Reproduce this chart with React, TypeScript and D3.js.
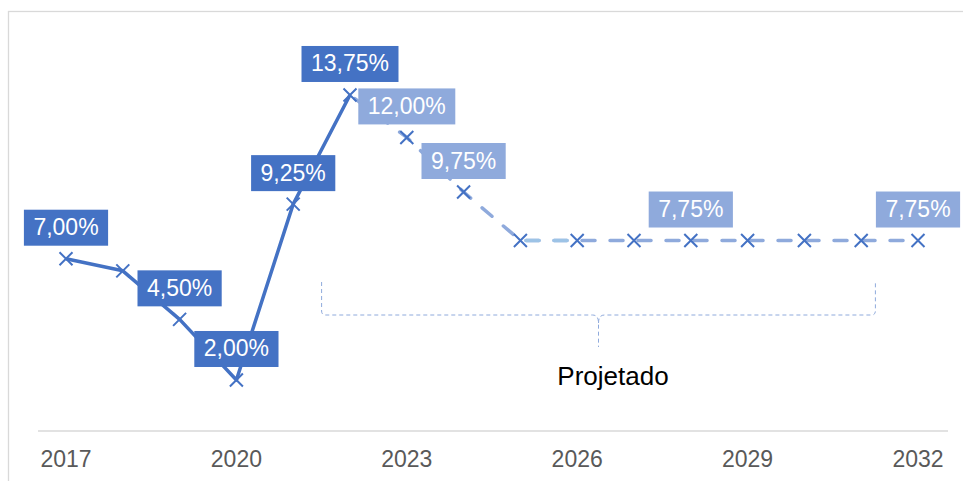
import React from 'react';
import * as d3 from 'd3';

const width = 963;
const height = 481;

// Selic path: actual up to 2022, projected afterwards
const years = [2017, 2018, 2019, 2020, 2021, 2022, 2023, 2024, 2025, 2026, 2027, 2028, 2029, 2030, 2031, 2032];
const rates = [7.0, 6.5, 4.5, 2.0, 9.25, 13.75, 12.0, 9.75, 7.75, 7.75, 7.75, 7.75, 7.75, 7.75, 7.75, 7.75];
const lastActual = 2022;
const labeledYears = [2017, 2019, 2020, 2021, 2022, 2023, 2024, 2028, 2032];
const tickYears = [2017, 2020, 2023, 2026, 2029, 2032];
const skySpan = [2025, 2026];
const bracketLabel = 'Projetado';

const FONT = '"Liberation Sans", Arial, sans-serif';
const DARK = '#4472C4';
const LIGHT = '#8FAADC';
const SKY = '#9DC3E6';

const x = d3.scaleLinear().domain([2017, 2032]).range([66, 918]);
const y = d3.scaleLinear().domain([0, 16]).range([428.5, 40.4]);

const fmt = (v: number) => v.toFixed(2).replace('.', ',') + '%';

// rough Arial advance widths, in em
const charW: Record<string, number> = { ',': 0.278, '%': 0.889 };
const textWidth = (s: string, size: number) =>
  s.split('').reduce((a, c) => a + (charW[c] ?? 0.556), 0) * size;

const points = years.map((yr, i) => ({ yr, v: rates[i] }));

const line = d3
  .line<{ yr: number; v: number }>()
  .x((d) => x(d.yr))
  .y((d) => y(d.v));

const actual = points.filter((d) => d.yr <= lastActual);
const projected = points.filter((d) => d.yr >= lastActual);

export default function App() {
  const fs = 23;
  // bracket spanning the projected years
  const bx0 = x(2021.5);
  const bx1 = x(2031.25);
  const bmid = (bx0 + bx1) / 2;
  const bTop = 282;
  const bY = 315;
  const bTip = 347;
  const bracket =
    `M${bx0},${bTop} L${bx0},${bY - 4} Q${bx0},${bY} ${bx0 + 4},${bY} ` +
    `L${bmid - 6},${bY} Q${bmid},${bY} ${bmid},${bY + 8} L${bmid},${bTip} ` +
    `M${bmid},${bY + 8} Q${bmid},${bY} ${bmid + 6},${bY} ` +
    `L${bx1 - 4},${bY} Q${bx1},${bY} ${bx1},${bY - 4} L${bx1},${bTop}`;

  const projD = line(projected) || '';

  return (
    <svg
      width={width}
      height={height}
      style={{ position: 'absolute', left: 0, top: 0 }}
      fontFamily={FONT}
    >
      <defs>
        <clipPath id="sky">
          <rect x={x(skySpan[0]) + 3} y={0} width={x(skySpan[1]) - x(skySpan[0])} height={height} />
        </clipPath>
      </defs>
      <rect x={0} y={0} width={width} height={height} fill="#fff" />
      <rect x={8.5} y={11.5} width={1200} height={600} fill="none" stroke="#D9D9D9" strokeWidth={1.3} />

      {/* x axis */}
      <line x1={38} x2={948} y1={431} y2={431} stroke="#D9D9D9" strokeWidth={1.5} />
      {tickYears.map((t) => (
        <text key={t} x={x(t)} y={467} textAnchor="middle" fontSize={fs} fill="#595959">
          {t}
        </text>
      ))}

      {/* bracket annotation */}
      <path d={bracket} fill="none" stroke={LIGHT} strokeWidth={1} strokeDasharray="4,3" />
      <text x={613} y={385} textAnchor="middle" fontSize={26} fill="#000">
        {bracketLabel}
      </text>

      {/* lines */}
      <path d={projD} fill="none" stroke={LIGHT} strokeWidth={3.5}
        strokeDasharray="13,15" strokeLinecap="round" strokeDashoffset={-6} />
      <path d={projD} fill="none" stroke={SKY} strokeWidth={3.5} clipPath="url(#sky)"
        strokeDasharray="13,15" strokeLinecap="round" strokeDashoffset={-6} />
      <path d={line(actual) || ''} fill="none" stroke={DARK} strokeWidth={3.5} strokeLinejoin="round" />

      {/* markers */}
      {points.map((d) => {
        const cx = x(d.yr);
        const cy = y(d.v);
        const r = 6.5;
        return (
          <path
            key={d.yr}
            d={`M${cx - r},${cy - r}L${cx + r},${cy + r}M${cx - r},${cy + r}L${cx + r},${cy - r}`}
            stroke={DARK}
            strokeWidth={2}
          />
        );
      })}

      {/* data labels */}
      {points
        .filter((d) => labeledYears.includes(d.yr))
        .map((d) => {
          const s = fmt(d.v);
          const w = textWidth(s, fs) + 19;
          const cx = x(d.yr);
          const cy = y(d.v) - 31;
          return (
            <g key={d.yr}>
              <rect x={cx - w / 2} y={cy - 18} width={w} height={36} fill={d.yr <= lastActual ? DARK : LIGHT} />
              <text x={cx} y={cy + 7.5} textAnchor="middle" fontSize={fs} fill="#fff">
                {s}
              </text>
            </g>
          );
        })}
    </svg>
  );
}
